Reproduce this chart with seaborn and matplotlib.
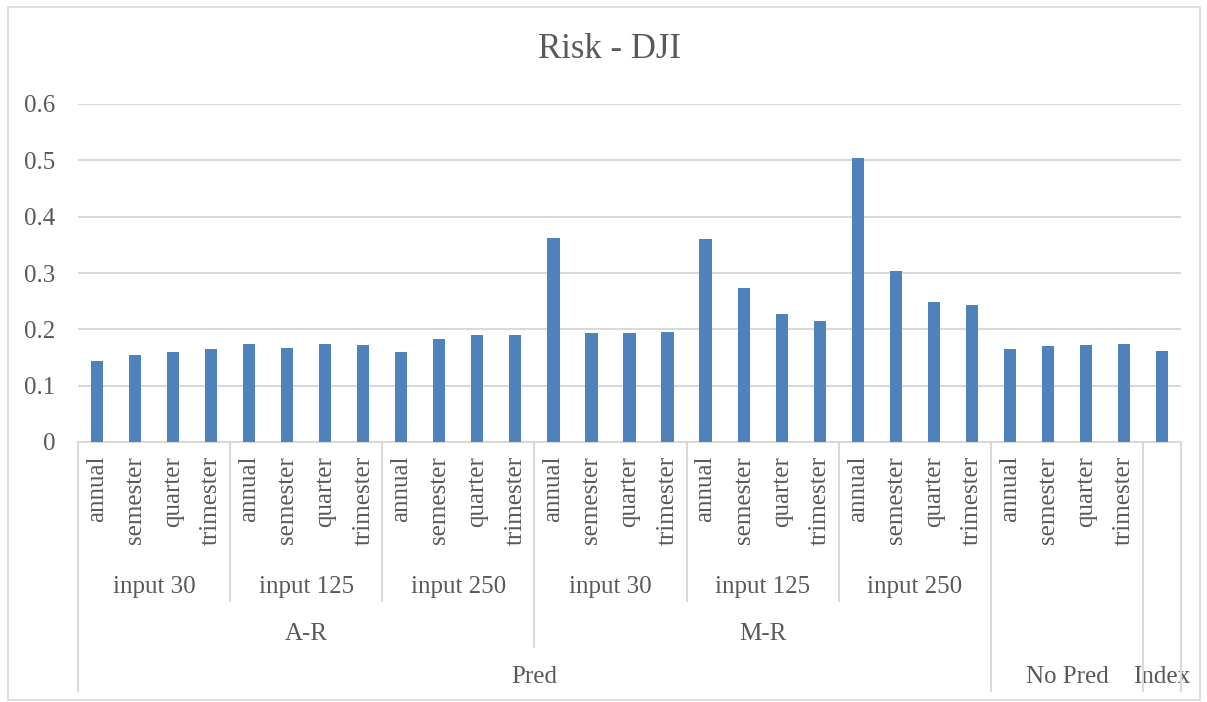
import matplotlib
matplotlib.use("Agg")
import matplotlib.pyplot as plt
import seaborn as sns
import pandas as pd
from matplotlib.patches import Rectangle
from matplotlib.lines import Line2D
from matplotlib.transforms import blended_transform_factory

# ---- data ----
periods = ["annual", "semester", "quarter", "trimester"]
inputs = ["input 30", "input 125", "input 250"]
ar_values = [0.144, 0.155, 0.160, 0.165,
             0.174, 0.167, 0.174, 0.173,
             0.160, 0.183, 0.190, 0.190]
mr_values = [0.363, 0.193, 0.193, 0.195,
             0.360, 0.274, 0.227, 0.214,
             0.504, 0.303, 0.249, 0.243]
nopred_values = [0.165, 0.170, 0.173, 0.174]
index_value = [0.161]
title = "Risk - DJI"

# ---- build table ----
rows = []
for model, vals in (("A-R", ar_values), ("M-R", mr_values)):
    for i, inp in enumerate(inputs):
        for j, per in enumerate(periods):
            rows.append(("Pred", model, inp, per, vals[i * 4 + j]))
for j, per in enumerate(periods):
    rows.append(("No Pred", "", "", per, nopred_values[j]))
rows.append(("Index", "", "", "", index_value[0]))
df = pd.DataFrame(rows, columns=["top", "model", "input", "period", "risk"])
df["key"] = [f"{i}" for i in range(len(df))]

W, H = 1207, 702
fig = plt.figure(figsize=(W / 100, H / 100), dpi=100)
sns.set_style("white")
plt.rcParams["font.family"] = ["Liberation Serif", "DejaVu Serif"]
TXT = "#595959"
GRID = "#d9d9d9"
FS = 18

def fx(px):
    return px / W

def fy(py):
    return 1 - py / H

left, right, top, bottom = 78, 1181, 104, 442
ax = fig.add_axes([fx(left), fy(bottom), fx(right) - fx(left), fy(top) - fy(bottom)])

sns.barplot(data=df, x="key", y="risk", order=list(df["key"]), color="#4f81bd",
            saturation=1, width=0.32, ax=ax, zorder=3, edgecolor="none")

ax.set_xlim(-0.5, len(df) - 0.5)
ax.set_ylim(0, 0.6)
ax.set_yticks([0, 0.1, 0.2, 0.3, 0.4, 0.5, 0.6])
ax.set_yticklabels(["0", "0.1", "0.2", "0.3", "0.4", "0.5", "0.6"], fontsize=FS, color=TXT)
ax.tick_params(axis="y", length=0, pad=16.5)
ax.yaxis.grid(True, color=GRID, linewidth=1.5, zorder=0)
ax.set_xlabel("")
ax.set_ylabel("")
ax.set_xticks([])
for s in ("top", "right", "left"):
    ax.spines[s].set_visible(False)
ax.spines["bottom"].set_color(GRID)
ax.spines["bottom"].set_linewidth(1.5)

trans = blended_transform_factory(ax.transData, fig.transFigure)

# level 1 labels (period)
for i, per in enumerate(df["period"]):
    if per:
        ax.text(i, fy(456), per, rotation=90, ha="center", va="top", fontsize=FS,
                color=TXT, transform=trans, clip_on=False)

def vline(xb, y_end):
    fig.add_artist(Line2D([xb, xb], [fy(bottom), fy(y_end)], transform=trans,
                          color=GRID, linewidth=1.5, clip_on=False))

n = len(df)
# group separators
for k in (4, 8, 16, 20):
    vline(k - 0.5, 601)
vline(12 - 0.5, 647)
for k in (0, 24, 28, n):
    vline(k - 0.5, 691)

# level 2 labels
for g in range(6):
    ax.text(g * 4 + 1.5, fy(587), inputs[g % 3], ha="center", va="center", fontsize=FS,
            color=TXT, transform=trans, clip_on=False)
# level 3 labels
ax.text(5.5, fy(634), "A-R", ha="center", va="center", fontsize=FS, color=TXT,
        transform=trans, clip_on=False)
ax.text(17.5, fy(634), "M-R", ha="center", va="center", fontsize=FS, color=TXT,
        transform=trans, clip_on=False)
# level 4 labels
ax.text(11.5, fy(677), "Pred", ha="center", va="center", fontsize=FS, color=TXT,
        transform=trans, clip_on=False)
ax.text(25.5, fy(677), "No Pred", ha="center", va="center", fontsize=FS, color=TXT,
        transform=trans, clip_on=False)
ax.text(28, fy(677), "Index", ha="center", va="center", fontsize=FS, color=TXT,
        transform=trans, clip_on=False)

# title
fig.text(fx(609), fy(50), title, ha="center", va="center", fontsize=25, color=TXT)

# chart border
fig.add_artist(Rectangle((fx(7.5), fy(700)), fx(1200) - fx(7.5), fy(7.5) - fy(700),
                         transform=fig.transFigure, fill=False, edgecolor=GRID, linewidth=1.2))

fig.savefig("out.png", dpi=100, facecolor="white")
